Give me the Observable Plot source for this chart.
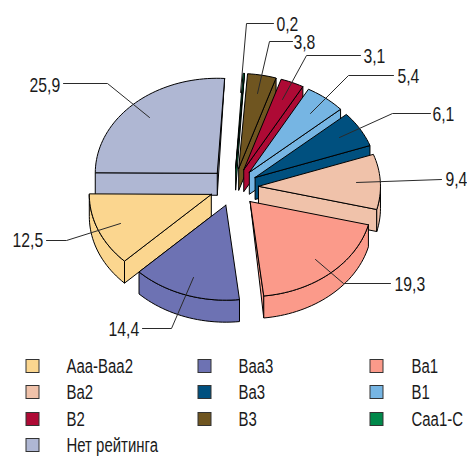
<!DOCTYPE html>
<html>
<head>
<meta charset="utf-8">
<script src="https://cdn.jsdelivr.net/npm/d3@7"></script>
<script src="https://cdn.jsdelivr.net/npm/@observablehq/plot@0.6"></script>
<style>html,body{margin:0;padding:0;background:#fff}svg{display:block}</style>
</head>
<body>
<div id="chart"></div>
<script>
// data, in legend order
const categories = ["Aaa-Baa2","Baa3","Ba1","Ba2","Ba3","B1","B2","B3","Caa1-C","Нет рейтинга"];
const shares = [12.5,14.4,19.3,9.4,6.1,5.4,3.1,3.8,0.2,25.9];
const colors = ["#fbd68f","#6d72b3","#fb9a8a","#f0c2aa","#00507f","#76b5e3","#ae0a35","#6f5520","#00884a","#afb7d3"];

// layout of the pie
const W = 467, H = 456;
const cx = 233.5, cy = 186.7, rx = 122, ry = 95, depth = 22, explode = 24.5, startDeg = 225.36;
const clockwiseOrder = ["Aaa-Baa2","Нет рейтинга","Caa1-C","B3","B2","B1","Ba3","Ba2","Ba1","Baa3"];
const drawOrder = ["Нет рейтинга","Caa1-C","B3","B2","B1","Ba3","Ba2","Ba1","Aaa-Baa2","Baa3"];

const rad = d => d * Math.PI / 180;
const total = d3.sum(shares);
let acc = startDeg;
const slices = clockwiseOrder.map(name => {
  const a0 = acc, a1 = acc + shares[categories.indexOf(name)] / total * 360;
  acc = a1;
  const mid = rad((a0 + a1) / 2);
  return {name, a0, a1, ox: cx + explode * Math.sin(mid), oy: cy - explode * (ry / rx) * Math.cos(mid)};
});
const byName = new Map(slices.map(s => [s.name, s]));

function rimPoint(s, deg, dz = 0) {
  return [s.ox + rx * Math.sin(rad(deg)), s.oy - ry * Math.cos(rad(deg)) + dz];
}
function arc(s, a0, a1, dz = 0) {
  const n = Math.max(2, Math.ceil(Math.abs(a1 - a0) / 2));
  return d3.range(n + 1).map(i => rimPoint(s, a0 + (a1 - a0) * i / n, dz));
}
function wall(s, deg) {
  const apex = [s.ox, s.oy], rim = rimPoint(s, deg);
  const apexLow = [s.ox, s.oy + depth], rimLow = rimPoint(s, deg, depth);
  if (Math.abs(Math.sin(rad(deg))) < 0.2) {
    // nearly edge-on: back corner, front corner, front corner lowered
    return apex[1] < rim[1] ? [apex, rim, rimLow] : [rim, apex, apexLow];
  }
  return [apex, rim, rimLow, apexLow];
}
const polygons = [];
let pid = 0;
function addPolygon(name, pts) {
  const id = pid++;
  [...pts, pts[0]].forEach(p => polygons.push({id, name, x: p[0], y: p[1]}));
}
for (const name of drawOrder) {
  const s = byName.get(name);
  const norm = d => ((d % 360) + 360) % 360;
  if (norm(s.a1) > 0 && norm(s.a1) < 180) addPolygon(name, wall(s, s.a1));
  if (norm(s.a0) > 180 && norm(s.a0) < 360) addPolygon(name, wall(s, s.a0));
  // outer rim, only the part facing the viewer
  for (const off of [0, 360]) {
    const lo = Math.max(s.a0, 90 + off), hi = Math.min(s.a1, 270 + off);
    if (hi > lo) addPolygon(name, [...arc(s, lo, hi), ...arc(s, hi, lo, depth)]);
  }
  addPolygon(name, [[s.ox, s.oy], ...arc(s, s.a0, s.a1)]);
}

// value labels and leader lines
const valueLabels = [
  {name:"Aaa-Baa2", x:12, y:240, path:[[120,223],[66,240],[46,240]]},
  {name:"Baa3", x:108, y:329, path:[[193,277],[171,328],[142,328]]},
  {name:"Ba1", x:394, y:284, path:[[315,259],[343,283],[390,283]]},
  {name:"Ba2", x:445, y:179, path:[[356,182],[441,179]]},
  {name:"Ba3", x:432, y:114, path:[[339,137],[392,113],[430,113]]},
  {name:"B1", x:397, y:76, path:[[310,113],[348,75],[393,75]]},
  {name:"B2", x:363, y:56, path:[[282,99],[306,55],[360,55]]},
  {name:"B3", x:293, y:42, path:[[257,93],[269,41],[292,41]]},
  {name:"Caa1-C", x:276, y:24, path:[[240,92],[246,23],[273,23]]},
  {name:"Нет рейтинга", x:29, y:85, path:[[149,117],[107,83],[63,83]]}
];
const fmt = v => String(v).replace(".", ",");
const labelRows = valueLabels.map(d => ({...d, text: fmt(shares[categories.indexOf(d.name)])}));
const leaderRows = valueLabels.flatMap(d => d.path.map(p => ({name: d.name, x: p[0], y: p[1]})));

// legend
const legendSwatchX = [26, 198, 370], legendTextX = [66, 238, 411], legendRowY = [366, 392, 419, 445];
const legendRows = categories.map((name, i) => ({
  name, sx: legendSwatchX[i % 3], tx: legendTextX[i % 3], y: legendRowY[Math.floor(i / 3)]
}));

const font = "'Liberation Sans',sans-serif";
const chart = Plot.plot({
  width: W, height: H, margin: 0,
  style: {background: "#fff"},
  x: {domain: [0, W], range: [0, W], axis: null},
  y: {domain: [0, H], range: [0, H], axis: null},
  color: {type: "ordinal", domain: categories, range: colors},
  marks: [
    Plot.line(polygons, {x: "x", y: "y", z: "id", fill: "name", stroke: "#000", strokeWidth: 1, strokeLinejoin: "round"}),
    Plot.line(leaderRows, {x: "x", y: "y", z: "name", stroke: "#2a2a2a", strokeWidth: 1}),
    Plot.text(labelRows, {x: "x", y: "y", text: "text", textAnchor: "start", fontSize: 21, fontFamily: font, fill: "#1a1a1a"}),
    Plot.rect(legendRows, {x1: d => d.sx, x2: d => d.sx + 13, y1: d => d.y - 6.5, y2: d => d.y + 6.5, fill: "name", stroke: "#333", strokeWidth: 1}),
    Plot.text(legendRows, {x: "tx", y: d => d.y - 0.3, text: "name", textAnchor: "start", fontSize: 21, fontFamily: font, fill: "#1a1a1a"})
  ]
});
document.getElementById("chart").append(chart);
// the reference uses a condensed face: squeeze the real text horizontally
chart.querySelectorAll("text").forEach(t => {
  const squeeze = /^\d/.test(t.textContent) ? 0.75 : 0.712;
  t.setAttribute("transform", (t.getAttribute("transform") || "") + ` scale(${squeeze},1)`);
});
</script>
</body>
</html>
